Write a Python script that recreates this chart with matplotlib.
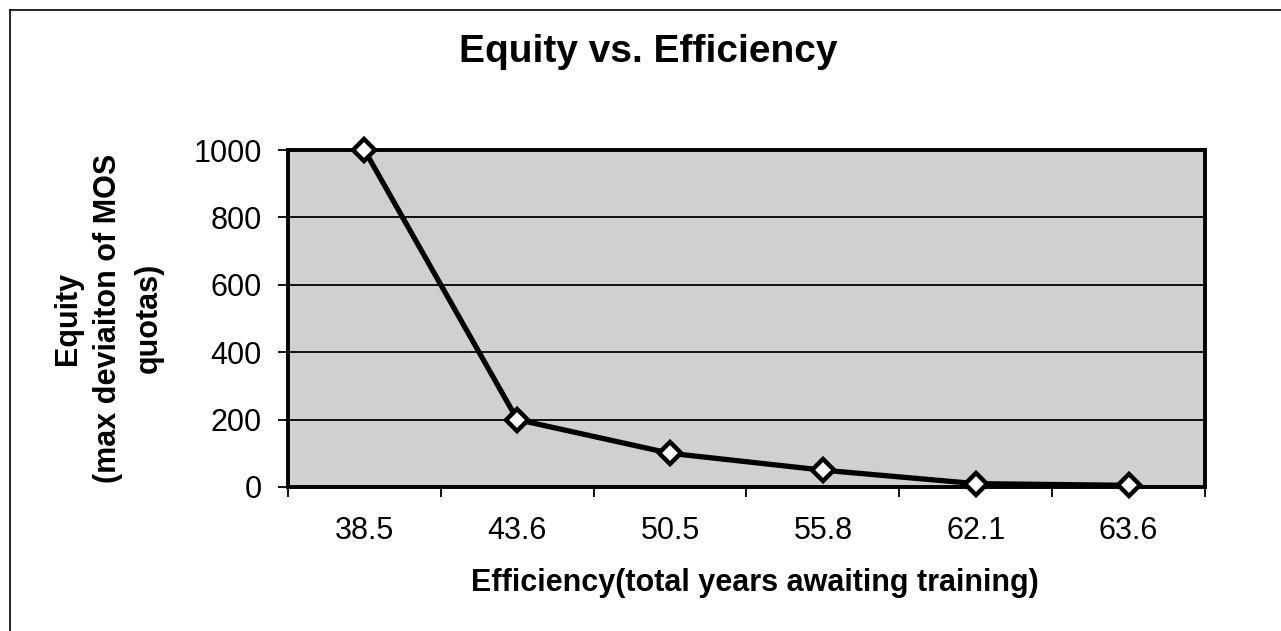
import matplotlib
matplotlib.use("Agg")
import matplotlib.pyplot as plt
from matplotlib.lines import Line2D

categories = ["38.5", "43.6", "50.5", "55.8", "62.1", "63.6"]
equity = [1000, 200, 100, 50, 10, 5]
y_ticks = [0, 200, 400, 600, 800, 1000]

plt.rcParams['font.family'] = ['Liberation Sans', 'DejaVu Sans']

fig = plt.figure(figsize=(12.81, 6.31), dpi=100)
ax = fig.add_axes([288/1281, 1-487/631, (1205-288)/1281, (487-150)/631])

ax.set_facecolor('#d0d0d0')
x = list(range(len(categories)))
ax.plot(x, equity, color='black', linewidth=3.8, marker='D', markersize=11,
        markerfacecolor='white', markeredgecolor='black', markeredgewidth=3.2, zorder=5,
        clip_on=False)

ax.set_xlim(-0.5, len(categories)-0.5)
ax.set_ylim(0, 1000)
ax.set_yticks(y_ticks)
ax.set_yticklabels([str(v) for v in y_ticks])
ax.yaxis.grid(True, color='black', linewidth=1.3)
ax.set_axisbelow(True)

ax.set_xticks(x)
ax.set_xticklabels(categories)
ax.set_xticks([i - 0.5 for i in range(len(categories)+1)], minor=True)
ax.tick_params(axis='x', which='major', length=0, pad=21, labelsize=22)
ax.tick_params(axis='x', which='minor', length=7, width=1.3, direction='out')
ax.tick_params(axis='y', length=7, width=1.3, direction='out', pad=12, labelsize=22)

for s in ax.spines.values():
    s.set_linewidth(2.8)
    s.set_color('black')

fig.text(755/1281, 1-583/631, "Efficiency(total years awaiting training)", fontsize=22,
         fontweight='bold', ha='center', va='center')
fig.text(108/1281, 1-318/631, "Equity\n(max deviaiton of MOS\nquotas)", fontsize=22,
         fontweight='bold', ha='center', va='center', rotation=90, linespacing=1.45,
         multialignment='center')

fig.text(648/1281, 1-52/631, "Equity vs. Efficiency", fontsize=28, fontweight='bold',
         ha='center', va='center')

# outer chart border (left and top edges visible)
fig.add_artist(Line2D([10/1281, 10/1281], [0, 1-10/631], transform=fig.transFigure,
                      color='black', linewidth=1.2))
fig.add_artist(Line2D([10/1281, 1], [1-10/631, 1-10/631], transform=fig.transFigure,
                      color='black', linewidth=1.2))

fig.savefig("out.png", dpi=100, facecolor='white')
